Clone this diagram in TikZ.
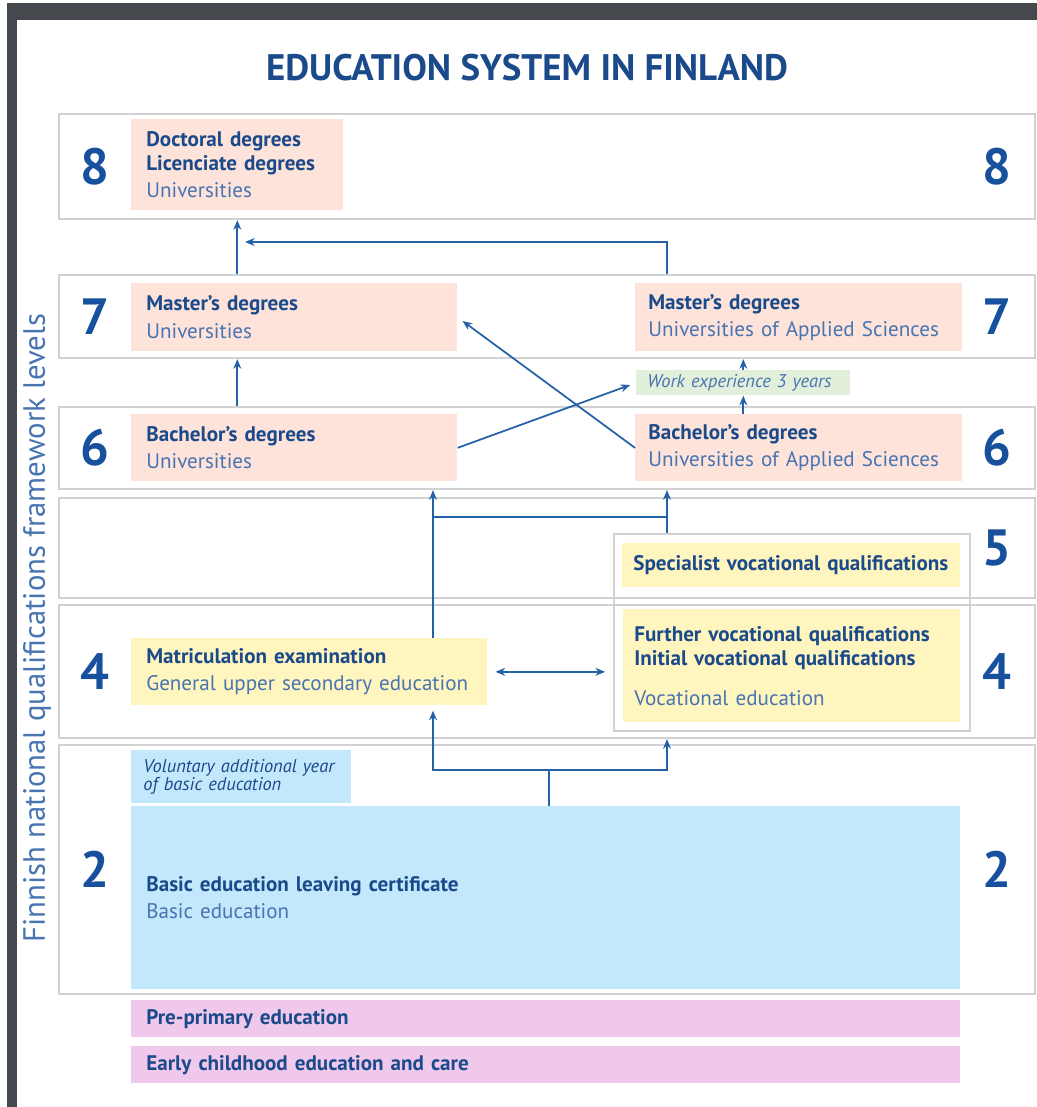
\documentclass[tikz,border=0pt]{standalone}
\usepackage{fontspec}
\setmainfont{PT Sans}
\usetikzlibrary{positioning,arrows.meta}

\definecolor{framegray}{HTML}{D2D2D2}
\definecolor{pinkfill}{HTML}{FDE3D9}
\definecolor{yellowfill}{HTML}{FFF5BE}
\definecolor{bluefill}{HTML}{C4E8FB}
\definecolor{mauvefill}{HTML}{EFC8EB}
\definecolor{greenfill}{HTML}{E2EFDB}
\definecolor{navytext}{HTML}{1B4A8B}
\definecolor{softtext}{HTML}{4874B2}
\definecolor{numblue}{HTML}{17509C}
\definecolor{linkblue}{HTML}{2462A8}
\definecolor{screen}{HTML}{45494D}

\begin{document}
\begin{tikzpicture}[x=0.02cm, y=-0.02cm,
    lvl/.style={draw=framegray, line width=1.2pt, anchor=north west, minimum width=19.52cm, inner sep=0pt},
    card/.style={anchor=north west, align=left, inner xsep=0.3cm, inner ysep=0pt, text=navytext, font=\fontsize{12}{13.6}\selectfont, text width=#1},
    degbox/.style={card=#1, fill=pinkfill},
    secbox/.style={card=#1, fill=yellowfill, inner xsep=0.22cm},
    basbox/.style={card=#1, fill=bluefill},
    ecebox/.style={card=#1, fill=mauvefill},
    num/.style={text=numblue, font=\fontsize{29}{32}\selectfont\bfseries, inner sep=0pt},
    link/.style={draw=linkblue, line width=1pt},
    arr/.style={link, -{Stealth[length=5.5pt, width=4.5pt]}}]
    \useasboundingbox (0,0) rectangle (1037,1107);
    \fill[screen] (7,3) rectangle (1037,20);
    \fill[screen] (7,3) rectangle (17,1107);

    \node (title) [text=navytext, font=\fontsize{21}{25}\selectfont\bfseries] at (527,68) {EDUCATION SYSTEM IN FINLAND};
    \node (nqf) [rotate=90, text=softtext, font=\fontsize{17.5}{20}\selectfont] at (37,628) {Finnish national qualifications framework levels};

    % level frames
    \node (lv8) [lvl, minimum height=2.10cm] at (58,113) {};
    \node (lv7) [lvl, minimum height=1.66cm] at (58,274) {};
    \node (lv6) [lvl, minimum height=1.64cm] at (58,406) {};
    \node (lv5) [lvl, minimum height=2.00cm] at (58,497) {};
    \node (lv4) [lvl, minimum height=2.66cm] at (58,604) {};
    \node (lv2) [lvl, minimum height=4.98cm] at (58,744) {};
    \node (vocf) [lvl, minimum width=7.12cm, minimum height=3.94cm] at (613,533) {};

    \node (n8l) [num, right=0.44cm of lv8.west] {8};
    \node (n8r) [num, left=0.48cm of lv8.east] {8};
    \node (n7l) [num, right=0.44cm of lv7.west] {7};
    \node (n7r) [num, left=0.48cm of lv7.east] {7};
    \node (n6l) [num, right=0.44cm of lv6.west] {6};
    \node (n6r) [num, left=0.48cm of lv6.east] {6};
    \node (n5r) [num, left=0.48cm of lv5.east] {5};
    \node (n4l) [num, right=0.44cm of lv4.west] {4};
    \node (n4r) [num, left=0.48cm of lv4.east] {4};
    \node (n2l) [num, right=0.44cm of lv2.west] {2};
    \node (n2r) [num, left=0.48cm of lv2.east] {2};

    % qualifications
    \node (doc) [degbox=3.64cm, minimum height=1.82cm] at (131,119) {\textbf{Doctoral degrees}\\\textbf{Licenciate degrees}\\[2pt]\textcolor{softtext}{Universities}};
    \node (mastU) [degbox=5.92cm, minimum height=1.36cm] at (131,283) {\textbf{Master’s degrees}\\[2pt]\textcolor{softtext}{Universities}};
    \node (bachU) [degbox=5.92cm, minimum height=1.34cm] at (131,414) {\textbf{Bachelor’s degrees}\\[2pt]\textcolor{softtext}{Universities}};
    \node (mastA) [degbox=6.02cm, inner xsep=0.26cm, minimum height=1.36cm] at (635,283) {\textbf{Master’s degrees}\\[2pt]\textcolor{softtext}{Universities of Applied Sciences}};
    \node (bachA) [degbox=6.02cm, inner xsep=0.26cm, minimum height=1.34cm] at (635,414) {\textbf{Bachelor’s degrees}\\[2pt]\textcolor{softtext}{Universities of Applied Sciences}};
    \node (work) [card=3.84cm, fill=greenfill, inner xsep=0.22cm, minimum height=0.5cm, text=softtext, font=\fontsize{10.5}{11}\selectfont\itshape] at (636,370) {Work experience 3 years};
    \node (matric) [secbox=6.52cm, inner xsep=0.3cm, minimum height=1.34cm] at (131,638) {\textbf{Matriculation examination}\\[2pt]\textcolor{softtext}{General upper secondary education}};
    \node (spec) [secbox=6.32cm, minimum height=0.88cm] at (622,543) {\textbf{Specialist vocational qualifications}};
    \node (voc) [secbox=6.30cm, minimum height=2.26cm] at (623,609) {\textbf{Further vocational qualifications}\\\textbf{Initial vocational qualifications}\\[9pt]\textcolor{softtext}{Vocational education}};
    \node (volun) [basbox=3.92cm, inner xsep=0.24cm, minimum height=1.06cm, font=\fontsize{10.5}{10.4}\selectfont\itshape] at (131,750) {Voluntary additional year\\of basic education};
    \node (basic) [basbox=15.98cm, minimum height=3.66cm] at (131,806) {\textbf{Basic education leaving certificate}\\[2pt]\textcolor{softtext}{Basic education}};
    \node (prepri) [ecebox=15.98cm, minimum height=0.74cm] at (131,1000) {\textbf{Pre-primary education}};
    \node (early) [ecebox=15.98cm, minimum height=0.74cm] at (131,1046) {\textbf{Early childhood education and care}};

    % connectors
    \coordinate (xl) at (433,0);
    \coordinate (xr) at (667,0);
    \coordinate (join8) at (245,242);
    \coordinate (split5) at (433,517);
    \coordinate (fork2) at (549,770);

    \draw [arr] (lv7.north -| doc.south) -- (lv8.south -| doc.south);
    \draw [arr] (lv7.north -| xr) |- (join8);
    \draw [arr] (lv6.north -| doc.south) -- (lv7.south -| doc.south);
    \draw [arr, shorten >=3.5pt] (bachA.west) -- (mastU.east);
    \draw [arr, shorten >=3.5pt] (bachU.east) -- (work.west);
    \draw [arr] (work.north) -- (lv7.south -| work.north);
    \draw [arr] (bachA.north -| work.south) -- (work.south);
    \draw [arr] (matric.north -| xl) -- (lv6.south -| xl);
    \draw [arr] (vocf.north -| xr) -- (lv6.south -| xr);
    \draw [link] (split5) -- (split5 -| xr);
    \draw [arr, {Stealth[length=5.5pt, width=4.5pt]}-{Stealth[length=5.5pt, width=4.5pt]}, shorten <=4.5pt, shorten >=4.5pt] (matric.east) -- (vocf.west |- matric.east);
    \draw [link] (basic.north -| fork2) -- (fork2);
    \draw [arr, shorten >=2.8pt] (fork2) -| (matric.south -| xl);
    \draw [arr] (fork2) -| (lv4.south -| xr);
\end{tikzpicture}
\end{document}
